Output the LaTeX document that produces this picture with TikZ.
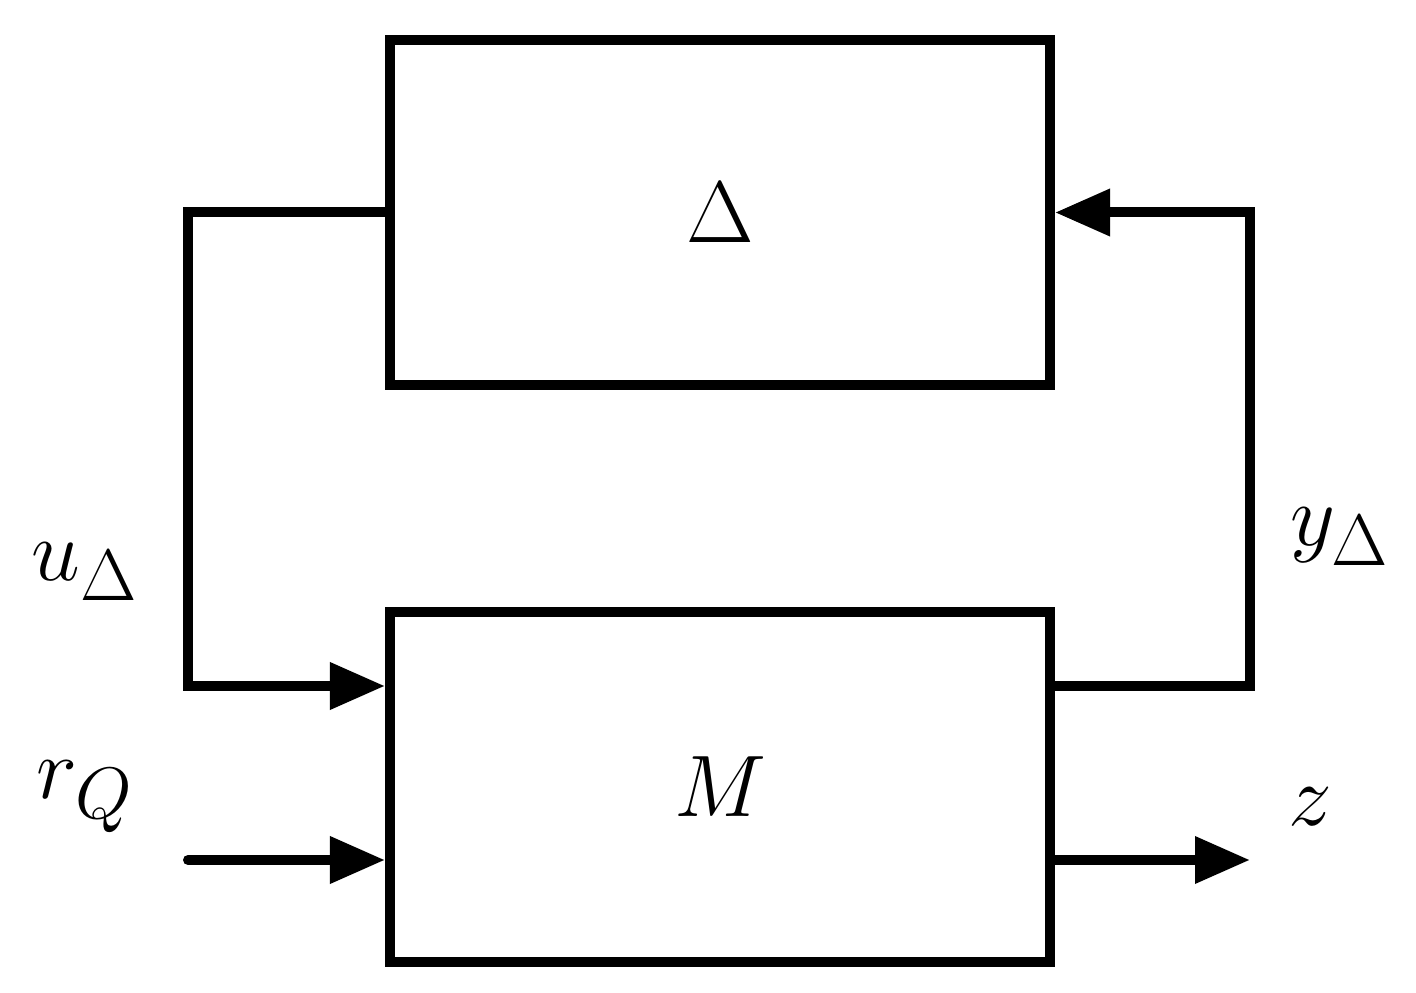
\documentclass[tikz,border=0pt]{standalone}
\usepackage{fontspec}
\setmainfont{Liberation Serif}
\usetikzlibrary{arrows.meta, positioning, calc}

\begin{document}
\begin{tikzpicture}[
    font=\fontsize{26}{30}\selectfont,
    >={Triangle[length=0.55cm, width=0.45cm]},
    block/.style={draw, line width=0.1cm, minimum width=6.6cm, inner sep=0pt},
    wire/.style={line width=0.1cm},
    sig/.style={font=\fontsize{30}{34}\selectfont}
]
\useasboundingbox (0,0) rectangle (14.16,9.92);

% === BLOCKS ===
\node[block, minimum height=3.45cm] (delta) at (7.2, 7.795) {\fontsize{34}{38}\selectfont$\Delta$};
\node[block, minimum height=3.5cm] (plant) at (7.2, 2.05) {\fontsize{34}{38}\selectfont$M$};

% === FREE ENDS ===
\coordinate (rin) at (1.88, 1.32);
\coordinate (zout) at (12.5, 1.32);

% === LOOP ===
\draw[wire, ->] (delta.west) -| (1.88, 3.06) -- ([yshift=1.01cm]plant.west);
\draw[wire, ->] ([yshift=1.01cm]plant.east) -| (12.5, 7.795) -- (delta.east);

% === EXTERNAL SIGNALS ===
\draw[wire, ->, line cap=round] (rin) -- ([yshift=-0.73cm]plant.west);
\draw[wire, ->] ([yshift=-0.73cm]plant.east) -- (zout);

% === LABELS ===
\node[sig] (ulab) at (0.85, 4.2) {$u_{\Delta}$};
\node[sig] (ylab) at (13.4, 4.55) {$y_{\Delta}$};
\node[sig] (rlab) at (0.85, 1.95) {$r_{Q}$};
\node[sig] (zlab) at (13.1, 1.85) {$z$};

\end{tikzpicture}
\end{document}
